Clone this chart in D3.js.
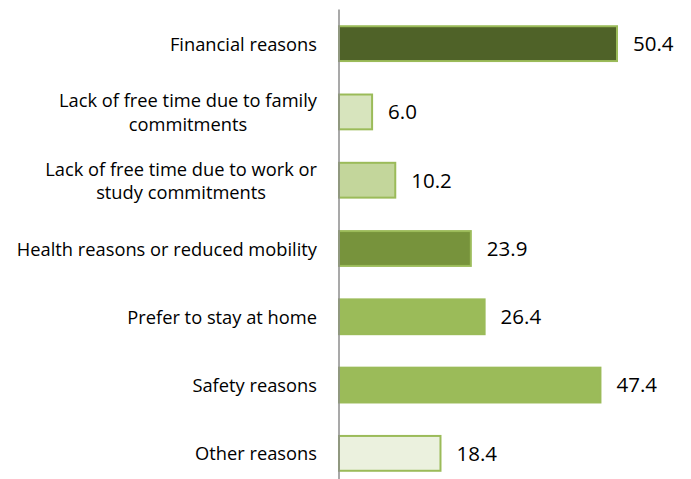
<!doctype html>
<html lang="en">
<head>
<meta charset="utf-8">
<script src="https://cdnjs.cloudflare.com/ajax/libs/d3/7.8.5/d3.min.js"></script>
<style>
  body { margin: 0; background: #fff; }
  svg text { font-family: 'Open Sans', sans-serif; fill: #000; }
</style>
</head>
<body>
<script>
// Chart data
const categories = [
  "Financial reasons",
  "Lack of free time due to family|commitments",
  "Lack of free time due to work or|study commitments",
  "Health reasons or reduced mobility",
  "Prefer to stay at home",
  "Safety reasons",
  "Other reasons"
];
const values = [50.4, 6.0, 10.2, 23.9, 26.4, 47.4, 18.4];
const fills = ["#4f6228", "#d7e4bd", "#c3d69b", "#77933c", "#9bbb59", "#9bbb59", "#ebf1de"];

const w = 691, h = 479;
const axisX = 339;

const svg = d3.select("body").append("svg")
  .attr("width", w)
  .attr("height", h);

const xScale = d3.scaleLinear()
  .domain([0, 50.4])
  .range([axisX, 617]);

const yScale = d3.scaleBand()
  .domain(categories)
  .range([9.5, 487.5])
  .paddingInner(0.49)
  .paddingOuter(0.245);

// Bars
svg.selectAll("rect.bar")
  .data(categories)
  .enter()
  .append("rect")
  .attr("class", "bar")
  .attr("x", xScale(0))
  .attr("y", d => yScale(d))
  .attr("width", (d, i) => xScale(values[i]) - xScale(0))
  .attr("height", yScale.bandwidth())
  .attr("fill", (d, i) => fills[i])
  .attr("stroke", "#9bbb59")
  .attr("stroke-width", 2);

// Value labels
svg.selectAll("text.value")
  .data(categories)
  .enter()
  .append("text")
  .attr("class", "value")
  .attr("x", (d, i) => xScale(values[i]) + 16)
  .attr("y", d => yScale(d) + yScale.bandwidth() / 2)
  .attr("dy", "0.36em")
  .style("font-size", "20.5px")
  .text((d, i) => values[i].toFixed(1));

// Category labels (multi-line ones centred as a block, right aligned)
const labels = svg.selectAll("g.label")
  .data(categories)
  .enter()
  .append("g")
  .attr("class", "label");

labels.each(function(d) {
  const g = d3.select(this);
  const lines = d.split("|");
  const cy = yScale(d) + yScale.bandwidth() / 2 + 0.5;
  const lh = 23.5;
  const t = g.selectAll("text")
    .data(lines)
    .enter()
    .append("text")
    .style("font-size", "18.3px")
    .attr("y", (l, j) => cy + (j - (lines.length - 1) / 2) * lh)
    .attr("dy", "0.36em")
    .text(l => l);
  let maxW = 0;
  t.each(function() { maxW = Math.max(maxW, this.getComputedTextLength()); });
  t.attr("x", 317 - maxW / 2).attr("text-anchor", "middle");
});

// Vertical axis line
svg.append("line")
  .attr("x1", axisX).attr("x2", axisX)
  .attr("y1", 9.5).attr("y2", 487.5)
  .attr("stroke", "#8c8c8c")
  .attr("stroke-width", 1.5);
</script>
</body>
</html>
